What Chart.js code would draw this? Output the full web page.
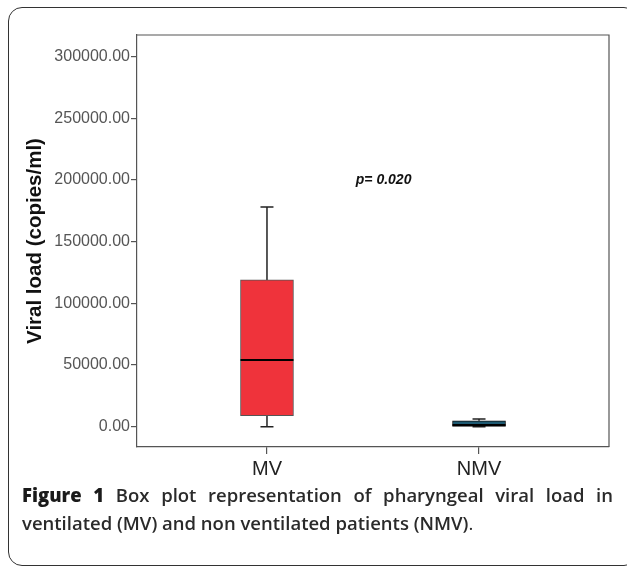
<!DOCTYPE html>
<html>
<head>
<meta charset="utf-8">
<script src="https://cdn.jsdelivr.net/npm/chart.js@4/dist/chart.umd.min.js"></script>
<style>
  html, body { margin: 0; padding: 0; background: #fff; }
  body { width: 627px; height: 568px; position: relative; overflow: hidden; }
  #frame { position: absolute; left: 8px; top: 7px; width: 630px; height: 559px;
           border: 1.5px solid #333; border-radius: 14px; box-sizing: border-box; }
  #wrap { position: absolute; left: 0; top: 0; width: 627px; height: 490px; }
  #caption { position: absolute; left: 22px; top: 481px; width: 591px;
             font-family: "Open Sans", sans-serif; font-size: 18.5px; font-weight: 600;
             line-height: 28px; color: #2a2a2a; text-align: justify; text-align-last: left; }
  #caption b { font-weight: 800; color: #1a1a1a; }
  #caption .r { font-weight: 400; }
</style>
</head>
<body>
<div id="frame"></div>
<div id="wrap"><canvas id="c" width="627" height="490"></canvas></div>
<div id="caption"><b>Figure 1</b> Box plot representation of pharyngeal viral load in ventilated (MV) and non ventilated patients (NMV)<span class="r">.</span></div>
<script>
// ---- data ----
const categories = ["MV", "NMV"];
const whiskerMin = [0, 0];
const quartile1  = [8900, 300];
const medians    = [54000, 1500];
const quartile3  = [119000, 4800];
const whiskerMax = [178000, 6200];
const boxColors  = ["#ef333b", "#1e5a72"];
const yTicks = [0, 50000, 100000, 150000, 200000, 250000, 300000];
const pLabel = "p= 0.020";
const pPos = { x: 1.55, y: 200000 };

const xPos = categories.map((c, i) => i + 1);

const boxPlugin = {
  id: 'boxparts',
  beforeDatasetsDraw(chart) {
    const { ctx, scales: { x, y } } = chart;
    ctx.save();
    ctx.strokeStyle = '#222';
    ctx.lineWidth = 1.5;
    xPos.forEach((xv, i) => {
      const px = x.getPixelForValue(xv);
      ctx.beginPath();
      ctx.moveTo(px, y.getPixelForValue(quartile3[i]));
      ctx.lineTo(px, y.getPixelForValue(whiskerMax[i]));
      ctx.moveTo(px, y.getPixelForValue(quartile1[i]));
      ctx.lineTo(px, y.getPixelForValue(whiskerMin[i]));
      ctx.moveTo(px - 6.5, y.getPixelForValue(whiskerMax[i]));
      ctx.lineTo(px + 6.5, y.getPixelForValue(whiskerMax[i]));
      ctx.moveTo(px - 6.5, y.getPixelForValue(whiskerMin[i]));
      ctx.lineTo(px + 6.5, y.getPixelForValue(whiskerMin[i]));
      ctx.stroke();
    });
    ctx.restore();
  },
  afterDatasetsDraw(chart) {
    const { ctx, chartArea, scales: { x, y } } = chart;
    ctx.save();
    ctx.strokeStyle = '#000';
    ctx.lineWidth = 2;
    xPos.forEach((xv, i) => {
      const px = x.getPixelForValue(xv);
      const py = y.getPixelForValue(medians[i]);
      ctx.beginPath();
      ctx.moveTo(px - 26.5, py);
      ctx.lineTo(px + 26.5, py);
      ctx.stroke();
    });
    // frame around plot area (top and right sides)
    ctx.strokeStyle = '#555';
    ctx.lineWidth = 1.2;
    ctx.beginPath();
    ctx.moveTo(chartArea.left, chartArea.top);
    ctx.lineTo(chartArea.right, chartArea.top);
    ctx.lineTo(chartArea.right, chartArea.bottom);
    ctx.stroke();
    // p-value label
    ctx.fillStyle = '#111';
    ctx.font = 'italic bold 14px "Liberation Sans", Arial, sans-serif';
    ctx.textAlign = 'center';
    ctx.textBaseline = 'middle';
    ctx.fillText(pLabel, x.getPixelForValue(pPos.x), y.getPixelForValue(pPos.y));
    ctx.restore();
  }
};

new Chart(document.getElementById('c'), {
  type: 'bar',
  data: {
    datasets: [{
      data: xPos.map((xv, i) => ({ x: xv, y: [quartile1[i], quartile3[i]] })),
      backgroundColor: boxColors,
      borderColor: ['#555', '#111'],
      borderWidth: 1,
      borderSkipped: false,
      barThickness: 53
    }]
  },
  options: {
    responsive: false,
    animation: false,
    events: [],
    layout: { padding: { left: 20, top: 35, right: 18, bottom: 0 } },
    plugins: { legend: { display: false }, tooltip: { enabled: false } },
    scales: {
      x: {
        type: 'linear',
        offset: false,
        min: 0.387,
        max: 2.613,
        afterBuildTicks(s) { s.ticks = xPos.map(v => ({ value: v })); },
        afterFit(s) { s.height = 43; },
        ticks: {
          callback: (v) => categories[Math.round(v) - 1] || '',
          font: { family: '"Liberation Sans", Arial, sans-serif', size: 20 },
          color: '#222',
          padding: 3,
          autoSkip: false,
          maxRotation: 0
        },
        grid: { offset: false, drawOnChartArea: false, drawTicks: true, tickLength: 7, color: '#555', lineWidth: 1.2 },
        border: { display: true, color: '#555', width: 1.2 }
      },
      y: {
        min: -16400,
        max: 317400,
        afterBuildTicks(s) { s.ticks = yTicks.map(v => ({ value: v })); },
        afterFit(s) { s.width = 117; },
        ticks: {
          callback: (v) => v.toFixed(2),
          font: { family: '"Liberation Sans", Arial, sans-serif', size: 16 },
          color: '#555',
          padding: 1
        },
        grid: { drawOnChartArea: false, drawTicks: true, tickLength: 6, color: '#555', lineWidth: 1.2 },
        border: { display: true, color: '#555', width: 1.2 },
        title: {
          display: true,
          text: 'Viral load (copies/ml)',
          font: { family: '"Liberation Sans", Arial, sans-serif', size: 20.5, weight: 'bold' },
          color: '#111',
          padding: { top: 3, bottom: 0 }
        }
      }
    }
  },
  plugins: [boxPlugin]
});
</script>
</body>
</html>
